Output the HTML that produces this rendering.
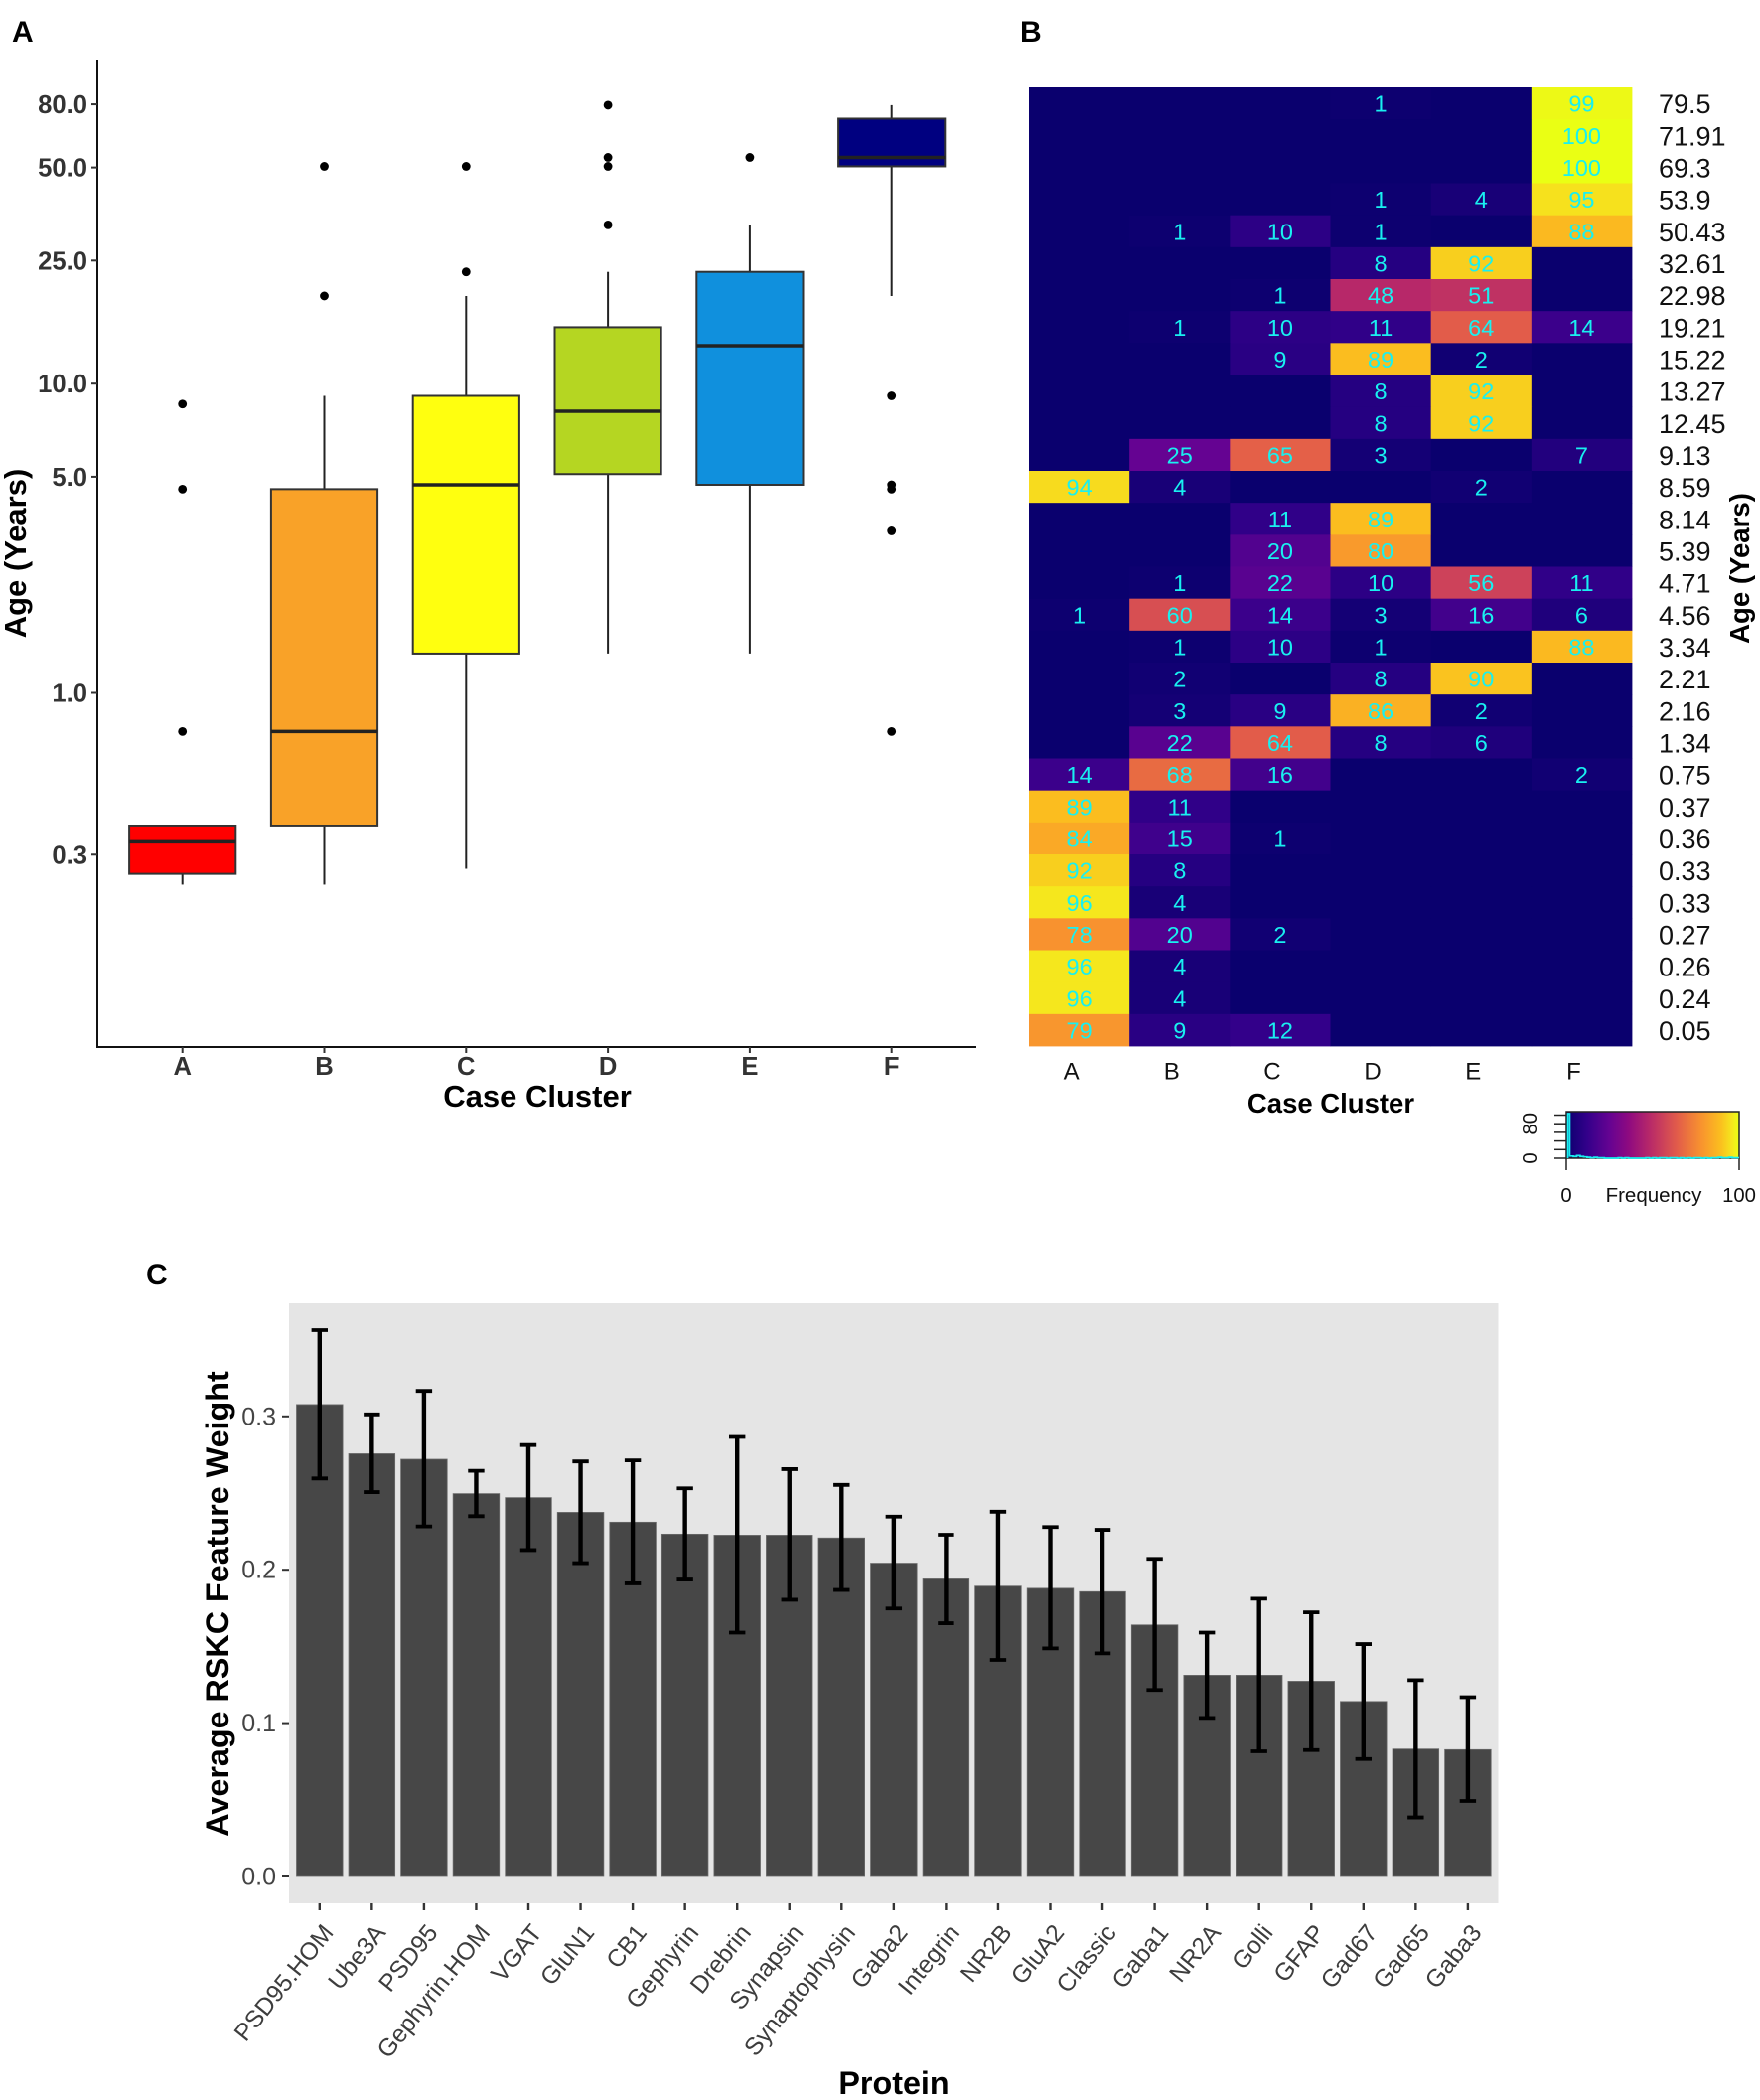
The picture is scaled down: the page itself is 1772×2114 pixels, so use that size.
<!DOCTYPE html>
<html lang="en">
<head>
<meta charset="utf-8">
<title>Case clusters by age and RSKC feature weights</title>
<style>
html,body{margin:0;padding:0;background:#fff;width:1772px;height:2114px;overflow:hidden}
svg{display:block;font-family:"Liberation Sans",sans-serif}
</style>
</head>
<body>
<svg id="fig" xmlns="http://www.w3.org/2000/svg" width="1772" height="2114" viewBox="0 0 1772 2114">
<defs><linearGradient id="keyGrad" x1="0" x2="1" y1="0" y2="0"></linearGradient></defs>
<rect x="0" y="0" width="1772" height="2114" fill="#fff"/>
<text x="12" y="42" font-size="30" font-weight="700" fill="#000">A</text>
<text x="1027" y="42" font-size="30" font-weight="700" fill="#000">B</text>
<text x="147" y="1293" font-size="30" font-weight="700" fill="#000">C</text>
<g id="panelA"></g>
<g id="panelB"></g>
<g id="panelC"></g>
</svg>
<script>
/* ---------- Panel A data ---------- */
const boxClusters = ["A","B","C","D","E","F"];
const boxColors = ["#ff0000","#f9a228","#ffff0f","#b5d622","#1090dd","#000080"];
const boxLow = [0.24,0.24,0.27,1.34,1.34,19.21];
const boxQ1 = [0.26,0.37,1.34,5.1,4.71,50.43];
const boxMedian = [0.33,0.75,4.71,8.14,13.27,53.9];
const boxQ3 = [0.37,4.56,9.13,15.22,22.98,71.91];
const boxHigh = [0.37,9.13,19.21,22.98,32.61,79.5];
const boxOutliers = [[8.59,4.56,0.75],[50.43,19.21],[50.43,22.98],[79.5,53.9,50.43,32.61],[53.9],[9.13,4.71,4.56,3.34,0.75]];
const ageTicks = [80,50,25,10,5,1,0.3];
const ageTickLabels = ["80.0","50.0","25.0","10.0","5.0","1.0","0.3"];

/* ---------- Panel B data ---------- */
const heatColumns = ["A","B","C","D","E","F"];
const heatAges = ["79.5","71.91","69.3","53.9","50.43","32.61","22.98","19.21","15.22","13.27","12.45","9.13","8.59","8.14","5.39","4.71","4.56","3.34","2.21","2.16","1.34","0.75","0.37","0.36","0.33","0.33","0.27","0.26","0.24","0.05"];
const heatValues = [
[0,0,0,1,0,99],[0,0,0,0,0,100],[0,0,0,0,0,100],[0,0,0,1,4,95],[0,1,10,1,0,88],
[0,0,0,8,92,0],[0,0,1,48,51,0],[0,1,10,11,64,14],[0,0,9,89,2,0],[0,0,0,8,92,0],
[0,0,0,8,92,0],[0,25,65,3,0,7],[94,4,0,0,2,0],[0,0,11,89,0,0],[0,0,20,80,0,0],
[0,1,22,10,56,11],[1,60,14,3,16,6],[0,1,10,1,0,88],[0,2,0,8,90,0],[0,3,9,86,2,0],
[0,22,64,8,6,0],[14,68,16,0,0,2],[89,11,0,0,0,0],[84,15,1,0,0,0],[92,8,0,0,0,0],
[96,4,0,0,0,0],[78,20,2,0,0,0],[96,4,0,0,0,0],[96,4,0,0,0,0],[79,9,12,0,0,0]];
const paletteLevels = [0,12,25,36,48,64,78,89,96,100];
const paletteColors = ["#0a006e","#33008a","#650392","#8e0a80","#b72869","#e25c4a","#f8922f","#fbbd1f","#f5e71d","#eaff14"];
const keyHistogram = [104,5,4,6,4,3,2,1,2,1,1,0,0,0,0,1,0,1,0,0,0,0,0,1,0,1,0,1,1,0,1,1,0,1,0,1,0,1,1,0,1,0,1,1,2,1,1,2,1,1];
const keyCountTicks = [0,20,40,60,80,100];

/* ---------- Panel C data ---------- */
const proteins = ["PSD95.HOM","Ube3A","PSD95","Gephyrin.HOM","VGAT","GluN1","CB1","Gephyrin","Drebrin","Synapsin","Synaptophysin","Gaba2","Integrin","NR2B","GluA2","Classic","Gaba1","NR2A","Golli","GFAP","Gad67","Gad65","Gaba3"];
const weights = [0.3077,0.2756,0.272,0.2496,0.247,0.2374,0.231,0.2232,0.2225,0.2225,0.2207,0.2043,0.194,0.1893,0.1879,0.1857,0.164,0.1312,0.1312,0.1273,0.1141,0.0831,0.0827];
const errorHigh = [0.3562,0.3013,0.3166,0.2645,0.2813,0.2706,0.2713,0.2531,0.2866,0.2656,0.2553,0.2346,0.2228,0.2378,0.2278,0.226,0.2071,0.159,0.1811,0.1722,0.1515,0.128,0.1169];
const errorLow = [0.2595,0.2506,0.2282,0.2349,0.2128,0.2043,0.1911,0.1936,0.159,0.1804,0.1868,0.1747,0.1651,0.1412,0.1487,0.1455,0.1216,0.1034,0.0816,0.0824,0.0766,0.0385,0.0492];
const weightTicks = [0,0.1,0.2,0.3];
const weightTickLabels = ["0.0","0.1","0.2","0.3"];

const NS = "http://www.w3.org/2000/svg";
function mk(parent, tag, attrs, txt){
  const el = document.createElementNS(NS, tag);
  for (const k in attrs) el.setAttribute(k, attrs[k]);
  if (txt !== undefined) el.textContent = txt;
  parent.appendChild(el);
  return el;
}

/* ---------- Panel A ---------- */
(function(){
  const g = document.getElementById("panelA");
  const yAge = v => 697.5 - 311.3 * Math.log10(v);
  const xBox = i => 183.7 + 142.8 * i;
  const half = 53.6;
  let el;
  el = mk(g,"line",{x1:98,x2:98,y1:60,y2:1055,stroke:"#111","stroke-width":2});
  
  
  el = mk(g,"line",{x1:97,x2:983,y1:1054,y2:1054,stroke:"#111","stroke-width":2});
  
  
  ageTicks.forEach((t,i)=>{
    const y = yAge(t);
    el = mk(g,"line",{x1:92,x2:98,y1:y,y2:y,stroke:"#333","stroke-width":2});
    
    
    el = mk(g,"text",{x:88,y:y+9,"text-anchor":"end","font-size":25.6,"font-weight":700,fill:"#333"},ageTickLabels[i]);
    
    
  });
  boxClusters.forEach((c,i)=>{
    const x = xBox(i);
    el = mk(g,"line",{x1:x,x2:x,y1:1054,y2:1060,stroke:"#333","stroke-width":2});
    
    
    el = mk(g,"text",{x:x,y:1082,"text-anchor":"middle","font-size":25.6,"font-weight":700,fill:"#333"},c);
    
    
    el = mk(g,"line",{x1:x,x2:x,y1:yAge(boxHigh[i]),y2:yAge(boxQ3[i]),stroke:"#222","stroke-width":2});
    
    
    el = mk(g,"line",{x1:x,x2:x,y1:yAge(boxQ1[i]),y2:yAge(boxLow[i]),stroke:"#222","stroke-width":2});
    
    
    el = mk(g,"rect",{x:x-half,y:yAge(boxQ3[i]),width:half*2,height:yAge(boxQ1[i])-yAge(boxQ3[i]),fill:boxColors[i],stroke:"#333","stroke-width":2});
    
    
    el = mk(g,"line",{x1:x-half,x2:x+half,y1:yAge(boxMedian[i]),y2:yAge(boxMedian[i]),stroke:"#222","stroke-width":3.5});
    
    
    boxOutliers[i].forEach(v=>{
      el = mk(g,"circle",{cx:x,cy:yAge(v),r:4.4,fill:"#000"});
      
      
    });
  });
  el = mk(g,"text",{x:541,y:1114,"text-anchor":"middle","font-size":31,"font-weight":700,fill:"#000"},"Case Cluster");
  
  
  el = mk(g,"text",{transform:"translate(26,557) rotate(-90)","text-anchor":"middle","font-size":31,"font-weight":700,fill:"#000"},"Age (Years)");
  
  
})();

/* ---------- Panel B ---------- */
function hexToRgb(h){return [1,3,5].map(i=>parseInt(h.substr(i,2),16));}
function colorFor(v){
  let i = 0;
  while (i < paletteLevels.length-2 && v > paletteLevels[i+1]) i++;
  const t = Math.max(0,Math.min(1,(v-paletteLevels[i])/(paletteLevels[i+1]-paletteLevels[i])));
  const a = hexToRgb(paletteColors[i]), b = hexToRgb(paletteColors[i+1]);
  return "rgb(" + a.map((c,k)=>Math.round(c+(b[k]-c)*t)).join(",") + ")";
}
(function(){
  const g = document.getElementById("panelB");
  const x0 = 1036, y0 = 88, cw = 607/heatColumns.length, ch = 965/heatAges.length;
  let el;
  heatValues.forEach((row,r)=>{
    row.forEach((v,c)=>{
      el = mk(g,"rect",{x:x0+c*cw,y:y0+r*ch,width:cw+0.4,height:ch+0.4,fill:colorFor(v)});
      
      
      if (v > 0){
        el = mk(g,"text",{x:x0+(c+0.5)*cw,y:y0+(r+0.5)*ch+8.5,"text-anchor":"middle","font-size":23.5,fill:"#19f0f0"},String(v));
        
        
      }
    });
    el = mk(g,"text",{x:1670,y:y0+(r+0.5)*ch+10,"font-size":27,fill:"#111"},heatAges[r]);
    
    
  });
  heatColumns.forEach((c,i)=>{
    el = mk(g,"text",{x:x0+(i+0.5)*cw-8,y:1086.5,"text-anchor":"middle","font-size":24,fill:"#111"},c);
    
    
  });
  el = mk(g,"text",{x:1340,y:1120,"text-anchor":"middle","font-size":27.5,"font-weight":700,fill:"#000"},"Case Cluster");
  
  
  el = mk(g,"text",{transform:"translate(1761,572) rotate(-90)","text-anchor":"middle","font-size":27.6,"font-weight":700,fill:"#000"},"Age (Years)");
  
  

  /* colour key */
  const grad = document.getElementById("keyGrad");
  paletteLevels.forEach((lv,i)=>{
    mk(grad,"stop",{offset:lv+"%","stop-color":paletteColors[i]});
  });
  const kx0 = 1577, kx1 = 1751, ky0 = 1166, ky1 = 1119;
  const kX = f => kx0 + (kx1-kx0)*f/100;
  const kY = n => ky0 - 0.435*n;
  el = mk(g,"rect",{x:kx0,y:ky1,width:kx1-kx0,height:ky0-ky1,fill:"url(#keyGrad)",stroke:"#222","stroke-width":1.5});
  
  
  keyCountTicks.forEach(n=>{
    el = mk(g,"line",{x1:1565,x2:kx0,y1:kY(n),y2:kY(n),stroke:"#222","stroke-width":1.5});
    
    
  });
  [0,100].forEach(f=>{
    el = mk(g,"line",{x1:kX(f),x2:kX(f),y1:ky0,y2:1178,stroke:"#222","stroke-width":1.5});
    
    
  });
  const bw = 100/keyHistogram.length;
  let pts = [kX(0.9)+","+kY(0)];
  keyHistogram.forEach((n,i)=>{
    const a = i===0 ? 0.9 : i*bw;
    pts.push(kX(a)+","+Math.max(ky1+2,kY(n)));
    pts.push(kX((i+1)*bw)+","+Math.max(ky1+2,kY(n)));
  });
  el = mk(g,"polyline",{points:pts.join(" "),fill:"none",stroke:"#19f0f0","stroke-width":1.7});
  
  
  el = mk(g,"text",{x:kX(0),y:1210,"text-anchor":"middle","font-size":20.3,fill:"#111"},"0");
  
  
  el = mk(g,"text",{x:1665,y:1210,"text-anchor":"middle","font-size":20.5,fill:"#111"},"Frequency");
  
  
  el = mk(g,"text",{x:kX(100),y:1210,"text-anchor":"middle","font-size":20.3,fill:"#111"},"100");
  
  
  el = mk(g,"text",{transform:"translate(1547,"+kY(0)+") rotate(-90)","text-anchor":"middle","font-size":20.3,fill:"#111"},"0");
  
  
  el = mk(g,"text",{transform:"translate(1547,"+kY(80)+") rotate(-90)","text-anchor":"middle","font-size":20.3,fill:"#111"},"80");
  
  
})();

/* ---------- Panel C ---------- */
(function(){
  const g = document.getElementById("panelC");
  const yW = v => 1889 - 1544 * v;
  const xP = i => 321.8 + 52.55 * i;
  const barW = 46.6;
  let el;
  el = mk(g,"rect",{x:291,y:1312,width:1217.5,height:604,fill:"#e5e5e5"});
  
  
  weightTicks.forEach((t,i)=>{
    el = mk(g,"line",{x1:284,x2:291,y1:yW(t),y2:yW(t),stroke:"#333","stroke-width":2});
    
    
    el = mk(g,"text",{x:278,y:yW(t)+8.5,"text-anchor":"end","font-size":25,fill:"#444"},weightTickLabels[i]);
    
    
  });
  proteins.forEach((p,i)=>{
    const x = xP(i);
    el = mk(g,"rect",{x:x-barW/2,y:yW(weights[i]),width:barW,height:yW(0)-yW(weights[i]),fill:"#474747",stroke:"#6a6a6a","stroke-width":0.8});
    
    
    el = mk(g,"line",{x1:x,x2:x,y1:yW(errorHigh[i]),y2:yW(errorLow[i]),stroke:"#000","stroke-width":4.4});
    
    
    el = mk(g,"line",{x1:x-8.2,x2:x+8.2,y1:yW(errorHigh[i]),y2:yW(errorHigh[i]),stroke:"#000","stroke-width":3.8});
    
    
    el = mk(g,"line",{x1:x-8.2,x2:x+8.2,y1:yW(errorLow[i]),y2:yW(errorLow[i]),stroke:"#000","stroke-width":3.8});
    
    
    el = mk(g,"line",{x1:x,x2:x,y1:1916,y2:1923,stroke:"#333","stroke-width":2.4});
    
    
    el = mk(g,"text",{transform:"translate("+(x+15)+",1946) rotate(-51)","text-anchor":"end","font-size":24.6,fill:"#3d3d3d"},p);
    
    
  });
  el = mk(g,"text",{x:900,y:2108,"text-anchor":"middle","font-size":32.3,"font-weight":700,fill:"#000"},"Protein");
  
  
  el = mk(g,"text",{transform:"translate(230,1614.5) rotate(-90)","text-anchor":"middle","font-size":32.3,"font-weight":700,fill:"#000"},"Average RSKC Feature Weight");
  
  
})();
</script>
</body>
</html>
